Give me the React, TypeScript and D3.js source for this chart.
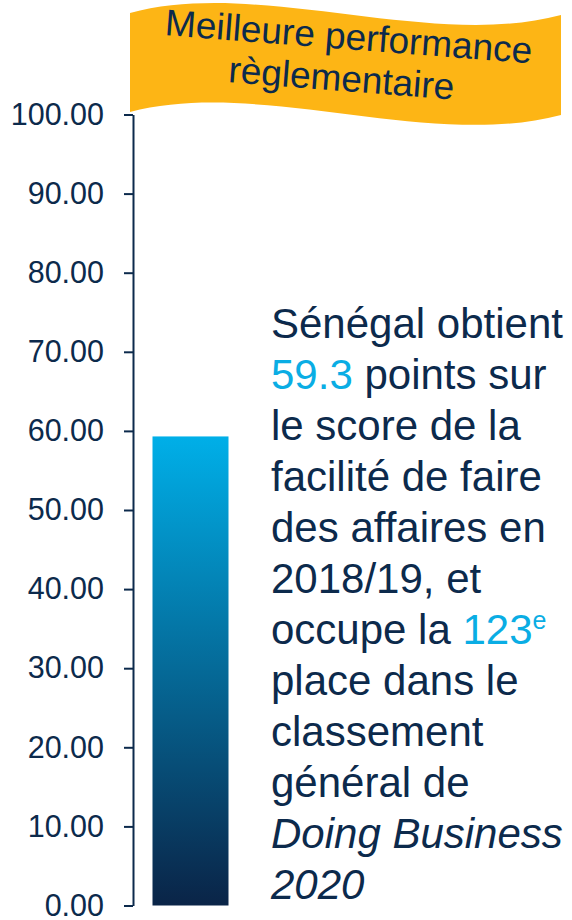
import React, { useEffect, useRef } from 'react';
import * as d3 from 'd3';

const CATEGORIES = ['Sénégal'];
const SCORES = [59.3];
const Y_TICKS = [0, 10, 20, 30, 40, 50, 60, 70, 80, 90, 100];
const BANNER_LINES = ['Meilleure performance', 'règlementaire'];
const RANK = 123;

const NAVY = '#0c2a4c';
const CYAN = '#0aade4';
const GOLD = '#fdb515';
const FONT = '"Liberation Sans", Arial, Helvetica, sans-serif';

const W = 572, H = 920;

type Seg = { t: string; c?: string; i?: boolean; sup?: boolean };

const TEXT_LINES: Seg[][] = [
  [{ t: `${CATEGORIES[0]} obtient` }],
  [{ t: `${SCORES[0]}`, c: CYAN }, { t: ' points sur' }],
  [{ t: 'le score de la' }],
  [{ t: 'facilité de faire' }],
  [{ t: 'des affaires en' }],
  [{ t: '2018/19, et' }],
  [{ t: 'occupe la ' }, { t: `${RANK}`, c: CYAN }, { t: 'e', c: CYAN, sup: true }],
  [{ t: 'place dans le' }],
  [{ t: 'classement' }],
  [{ t: 'général de' }],
  [{ t: 'Doing Business', i: true }],
  [{ t: '2020', i: true }],
];

export default function App() {
  const axisRef = useRef<SVGGElement>(null);

  const y = d3.scaleLinear().domain([0, 100]).range([905.5, 114.5]);
  const x = d3.scaleBand<string>().domain(CATEGORIES).range([143, 238]).paddingInner(0.2).paddingOuter(0.1);

  useEffect(() => {
    const g = d3.select(axisRef.current);
    g.selectAll('*').remove();
    g.call(
      d3.axisLeft(y)
        .tickValues(Y_TICKS)
        .tickFormat(d3.format('.2f') as any)
        .tickSizeInner(9)
        .tickSizeOuter(0)
        .tickPadding(20)
    );
    g.select('.domain').attr('stroke', NAVY).attr('stroke-width', 2);
    g.selectAll('.tick line').attr('stroke', NAVY).attr('stroke-width', 2);
    g.selectAll('.tick text')
      .attr('fill', NAVY)
      .attr('font-size', 30.5)
      .attr('font-family', FONT);
  }, []);

  const banner = 'M130,13 C260,-22 430,50 561,15 L561,115 C430,150 260,78 130,112 Z';

  return (
    <div style={{ position: 'absolute', left: 0, top: 0 }}>
      <svg width={W} height={H} viewBox={`0 0 ${W} ${H}`} style={{ display: 'block' }}>
        <defs>
          <linearGradient id="barGrad" x1="0" y1="0" x2="0" y2="1">
            <stop offset="0%" stopColor="#00afe8" />
            <stop offset="100%" stopColor="#0a2447" />
          </linearGradient>
        </defs>

        <g ref={axisRef} transform="translate(133,0)" />

        {CATEGORIES.map((c, i) => (
          <rect
            key={c}
            x={x(c)}
            width={x.bandwidth()}
            y={y(SCORES[i])}
            height={y(0) - y(SCORES[i])}
            fill="url(#barGrad)"
          />
        ))}

        <path d={banner} fill={GOLD} />
        <g transform="translate(344,72) rotate(4.4)">
          {BANNER_LINES.map((l, i) => (
            <text
              key={l}
              x={i === 0 ? 2 : -2}
              y={i === 0 ? -23 : 19}
              textAnchor="middle"
              fill={NAVY}
              fontSize={37}
              fontFamily={FONT}
            >
              {l}
            </text>
          ))}
        </g>

        <text x={271} fontFamily={FONT} fontSize={42} fill={NAVY}>
          {TEXT_LINES.map((segs, li) => (
            <tspan key={li} x={271} y={338 + li * 51}>
              {segs.map((s, si) => (
                <tspan
                  key={si}
                  fill={s.c || NAVY}
                  fontStyle={s.i ? 'italic' : undefined}
                  fontSize={s.sup ? 25 : undefined}
                  dy={s.sup ? -15 : undefined}
                >
                  {s.t}
                </tspan>
              ))}
            </tspan>
          ))}
        </text>
      </svg>
    </div>
  );
}
